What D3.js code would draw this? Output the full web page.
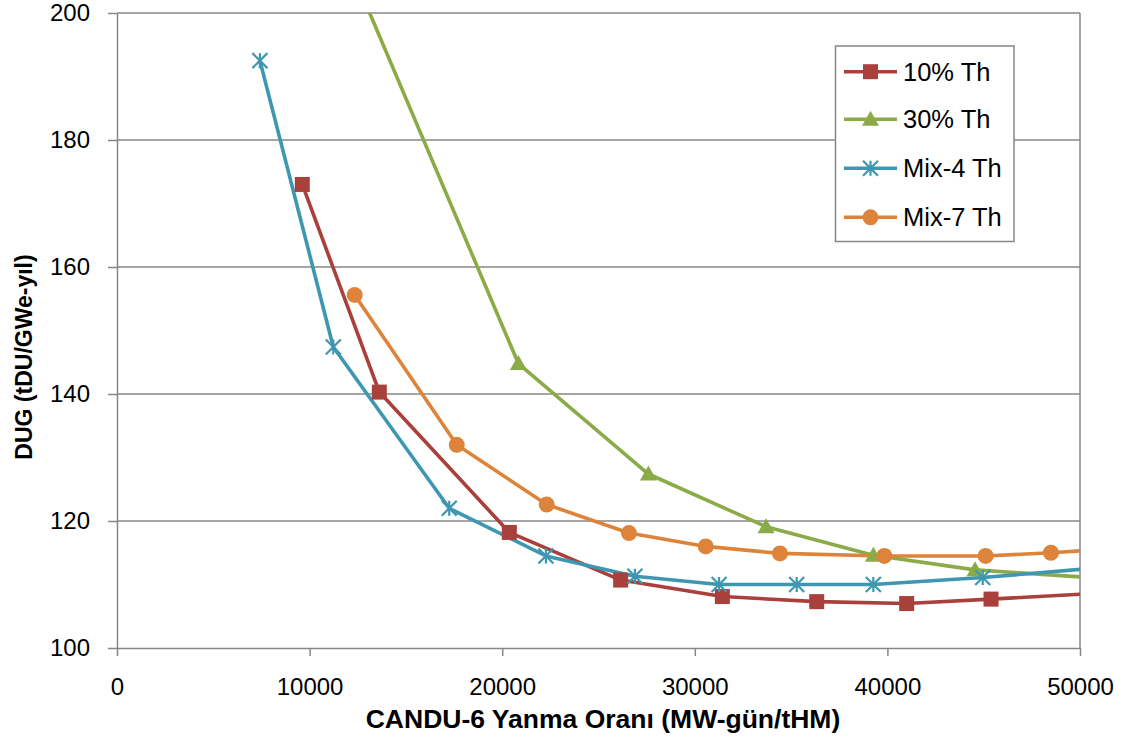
<!DOCTYPE html>
<html><head><meta charset="utf-8">
<script src="https://cdn.jsdelivr.net/npm/d3@7"></script>
<style>html,body{margin:0;padding:0;background:#fff;}svg{display:block;font-family:"Liberation Sans",Arial,sans-serif;}</style>
</head><body>
<svg id="chart" width="1126" height="744"></svg>
<script>
// ---- data ----
const seriesNames = ["10% Th", "30% Th", "Mix-4 Th", "Mix-7 Th"];
const burnup10 = [9620, 13620, 20370, 26150, 31430, 36330, 41000, 45380, 50500];
const dug10    = [173.0, 140.3, 118.2, 110.7, 108.1, 107.3, 107.0, 107.7, 108.55];
const burnup30 = [12000, 20840, 27590, 33700, 39270, 44550, 50500];
const dug30    = [208.0, 144.8, 127.4, 119.1, 114.6, 112.3, 111.1];
const burnupM4 = [7420, 11230, 17250, 22270, 26890, 31260, 35290, 39270, 44950, 50500];
const dugM4    = [192.5, 147.4, 122.0, 114.5, 111.3, 110.0, 110.0, 110.0, 111.1, 112.5];
const burnupM7 = [12340, 17640, 22310, 26580, 30570, 34420, 39840, 45100, 48490, 52000];
const dugM7    = [155.6, 132.0, 122.6, 118.1, 116.0, 114.9, 114.5, 114.5, 115.0, 115.7];
const xTicks = [0, 10000, 20000, 30000, 40000, 50000];
const yTicks = [100, 120, 140, 160, 180, 200];
const xTitle = "CANDU-6 Yanma Oranı (MW-gün/tHM)";
const yTitle = "DUG (tDU/GWe-yıl)";

// ---- styles ----
const colors = ["#A9403C", "#8BAA48", "#3D97B0", "#DD843A"];
const markers = ["square", "triangle", "star", "circle"];
const L = 117, R = 1080, T = 13, B = 648;

const svg = d3.select("#chart");
const x = d3.scaleLinear().domain([0, 50000]).range([L, R]);
const y = d3.scaleLinear().domain([100, 200]).range([B, T]);

// gridlines
svg.append("g").selectAll("line").data(yTicks.filter(v => v > 100)).join("line")
  .attr("x1", L).attr("x2", R).attr("y1", d => y(d)).attr("y2", d => y(d))
  .attr("stroke", "#878787").attr("stroke-width", 1.5);
// right border
svg.append("line").attr("x1", R).attr("x2", R).attr("y1", T).attr("y2", B)
  .attr("stroke", "#878787").attr("stroke-width", 1.5);

// axes
const xAxis = svg.append("g").attr("transform", `translate(0,${B})`)
  .call(d3.axisBottom(x).tickValues(xTicks).tickFormat(d3.format("d")).tickSizeInner(8).tickSizeOuter(0).tickPadding(22));
const yAxis = svg.append("g").attr("transform", `translate(${L},0)`)
  .call(d3.axisLeft(y).tickValues(yTicks).tickSizeInner(9).tickSizeOuter(0).tickPadding(18));
[xAxis, yAxis].forEach(a => {
  a.select(".domain").attr("stroke", "#878787").attr("stroke-width", 1.5);
  a.selectAll(".tick line").attr("stroke", "#878787").attr("stroke-width", 1.5);
  a.selectAll(".tick text").attr("font-size", 24).attr("fill", "#000")
    .attr("font-family", '"Liberation Sans", Arial, sans-serif');
});

// titles
svg.append("text").attr("x", 603).attr("y", 728).attr("text-anchor", "middle")
  .attr("font-size", 26.5).attr("font-weight", "bold").text(xTitle);
svg.append("text").attr("transform", `translate(32,357) rotate(-90)`)
  .attr("text-anchor", "middle").attr("font-size", 23).attr("font-weight", "bold").text(yTitle);

// clip
svg.append("clipPath").attr("id", "clip").append("rect")
  .attr("x", L).attr("y", T).attr("width", R - L).attr("height", B - T);

const seriesData = [
  d3.zip(burnup10, dug10), d3.zip(burnup30, dug30), d3.zip(burnupM4, dugM4), d3.zip(burnupM7, dugM7)
];
const line = d3.line().x(d => x(d[0])).y(d => y(d[1])).curve(d3.curveLinear);

function drawMarker(g, type, cx, cy, color, s) {
  if (type === "square") {
    g.append("rect").attr("x", cx - s / 2).attr("y", cy - s / 2).attr("width", s).attr("height", s).attr("fill", color);
  } else if (type === "triangle") {
    const h = s * 0.95;
    g.append("path").attr("d", `M${cx},${cy - h * 0.6}L${cx + s / 2 + 1},${cy + h * 0.45}L${cx - s / 2 - 1},${cy + h * 0.45}Z`).attr("fill", color);
  } else if (type === "circle") {
    g.append("circle").attr("cx", cx).attr("cy", cy).attr("r", s / 2 + 0.5).attr("fill", color);
  } else if (type === "star") {
    const r = s / 2;
    const p = [];
    p.push(`M${cx},${cy - r}L${cx},${cy + r}`);
    p.push(`M${cx - r},${cy - r}L${cx + r},${cy + r}`);
    p.push(`M${cx - r},${cy + r}L${cx + r},${cy - r}`);
    g.append("path").attr("d", p.join("")).attr("stroke", color).attr("stroke-width", 2.2).attr("fill", "none");
  }
}

const plot = svg.append("g").attr("clip-path", "url(#clip)");
seriesData.forEach((data, i) => {
  plot.append("path").datum(data).attr("d", line).attr("fill", "none")
    .attr("stroke", colors[i]).attr("stroke-width", 3.6).attr("stroke-linejoin", "round");
});
seriesData.forEach((data, i) => {
  const g = plot.append("g");
  data.forEach(d => {
    if (d[0] <= 50000 && d[1] <= 200) drawMarker(g, markers[i], x(d[0]), y(d[1]), colors[i], 15);
  });
});

// legend
const lg = svg.append("g");
lg.append("rect").attr("x", 835.5).attr("y", 46).attr("width", 178.5).attr("height", 195.5)
  .attr("fill", "#fff").attr("stroke", "#878787").attr("stroke-width", 1.5);
const legY = [71.7, 119.3, 168.3, 217.3];
seriesNames.forEach((name, i) => {
  lg.append("line").attr("x1", 844).attr("x2", 897).attr("y1", legY[i]).attr("y2", legY[i])
    .attr("stroke", colors[i]).attr("stroke-width", 3.6);
  drawMarker(lg, markers[i], 870.5, legY[i], colors[i], 15);
  lg.append("text").attr("x", 903).attr("y", legY[i] + 9).attr("font-size", 25.5).attr("fill", "#000").text(name);
});
</script>
</body></html>
